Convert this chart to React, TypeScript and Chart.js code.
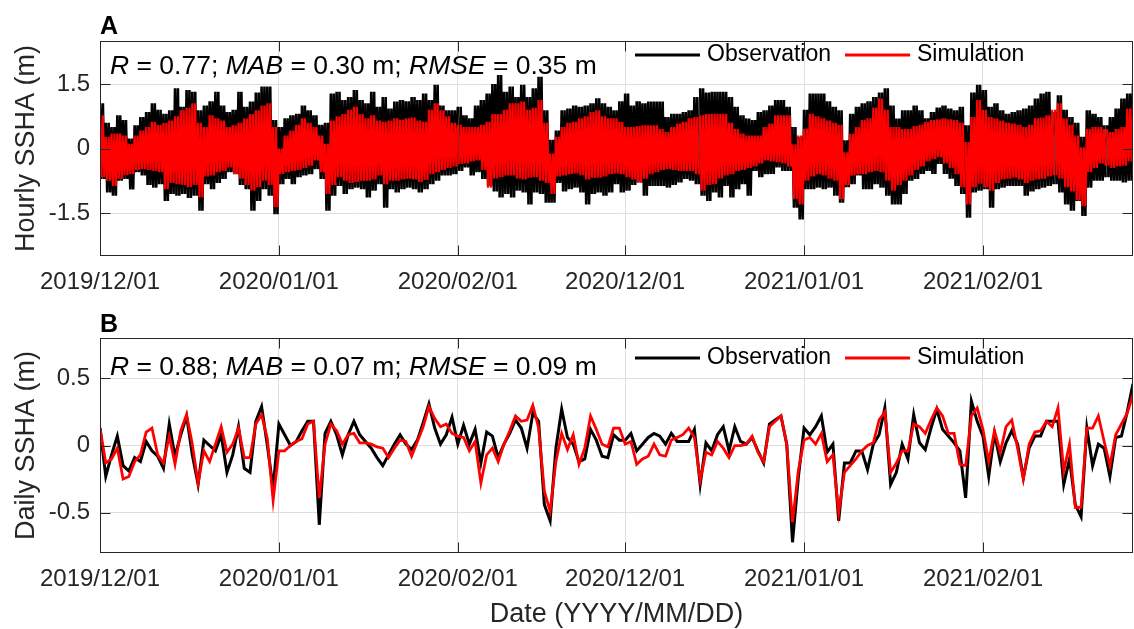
import React, { useEffect, useRef } from 'react';
import { Chart, registerables } from 'chart.js';
Chart.register(...registerables);

const FONT = '"Liberation Sans", Arial, Helvetica, sans-serif';
const TICK_COLOR = '#262626';
const GRID_COLOR = '#dedede';

// x axis: day index from 2019/12/01 (six months of data, concatenated)
const tickDays = [0, 31, 62, 91, 122, 153];
const tickLabels = ['2019/12/01', '2020/01/01', '2020/02/01', '2020/12/01', '2021/01/01', '2021/02/01'];
const dayMax = 179;

const hourlyYTicks = [-1.5, 0, 1.5];
const hourlyYLabels = ['-1.5', '0', '1.5'];
const dailyYTicks = [-0.5, 0, 0.5];
const dailyYLabels = ['-0.5', '0', '0.5'];

const seriesNames = ['Observation', 'Simulation'];
const seriesColors = ['#000000', '#ff0000'];

// Daily SSHA (m)
const dailyObs = [
  0.13, -0.23, -0.07, 0.07, -0.15, -0.19, -0.09, -0.12, 0.03, -0.04,
  -0.08, -0.17, 0.16, -0.08, 0.08, 0.22, -0.07, -0.29, 0.04, 0.0,
  -0.04, 0.08, -0.2, -0.07, 0.14, -0.17, -0.2, 0.18, 0.29, 0.0,
  -0.32, 0.16, 0.08, 0.0, 0.03, 0.11, 0.18, 0.18, -0.59, 0.09,
  0.18, 0.08, -0.07, 0.08, 0.18, 0.08, 0.03, -0.02, -0.09, -0.15,
  -0.07, 0.01, 0.08, 0.01, -0.03, 0.04, 0.17, 0.31, 0.13, 0.01,
  0.08, 0.21, 0.01, 0.15, 0.01, 0.12, -0.13, 0.1, 0.07, -0.09,
  0.01, 0.09, 0.19, 0.13, -0.02, 0.24, 0.18, -0.44, -0.56, -0.02,
  0.27, 0.06, 0.01, -0.12, -0.1, 0.12, 0.04, -0.08, -0.09, 0.08,
  0.04, 0.04, 0.09, -0.04, 0.01, 0.06, 0.09, 0.07, 0.01, 0.09,
  0.03, 0.03, 0.03, 0.12, -0.29, 0.02, -0.04, 0.08, 0.14, -0.04,
  0.14, 0.03, 0.01, 0.06, -0.04, -0.13, 0.16, 0.19, 0.22, 0.01,
  -0.72, -0.24, 0.13, 0.08, 0.14, 0.22, -0.05, 0.01, -0.56, -0.13,
  -0.13, -0.04, -0.04, -0.18, 0.01, 0.08, 0.28, -0.29, -0.2, 0.01,
  -0.1, 0.23, 0.02, -0.03, 0.13, 0.27, 0.12, 0.07, 0.02, -0.04,
  -0.39, 0.33, 0.18, 0.07, -0.23, 0.09, -0.12, 0.02, 0.11, 0.01,
  -0.24, -0.02, 0.07, 0.07, 0.18, 0.18, 0.18, -0.29, -0.1, -0.44,
  -0.53, 0.13, -0.15, 0.01, -0.02, -0.23, 0.06, 0.07, 0.25, 0.46,
];
const dailySim = [
  0.13, -0.13, -0.1, -0.02, -0.25, -0.23, -0.12, -0.07, 0.1, 0.13,
  -0.07, -0.13, 0.07, -0.14, 0.11, 0.23, 0.01, -0.28, -0.04, -0.12,
  0.01, 0.14, -0.05, 0.01, 0.13, -0.09, -0.09, 0.16, 0.23, 0.05,
  -0.41, -0.04, -0.04, 0.0, 0.03, 0.05, 0.16, 0.18, -0.39, 0.01,
  0.16, 0.11, 0.01, 0.08, 0.09, 0.02, 0.02, 0.01, -0.01, -0.02,
  -0.09, -0.02, 0.04, 0.03, -0.08, 0.03, 0.14, 0.29, 0.2, 0.14,
  0.16, 0.09, 0.07, 0.06, -0.04, 0.03, -0.28, -0.07, -0.02, -0.12,
  0.01, 0.11, 0.22, 0.18, 0.19, 0.3, 0.13, -0.34, -0.49, -0.12,
  0.09, -0.03, 0.08, -0.14, -0.02, 0.22, 0.12, 0.01, -0.01, 0.13,
  0.13, 0.01, 0.03, -0.14, -0.1, -0.08, 0.01, -0.07, -0.08, 0.04,
  0.06, 0.08, 0.13, 0.06, -0.26, -0.05, -0.07, 0.03, -0.02, -0.09,
  0.0, 0.0, 0.01, 0.07, -0.05, -0.12, 0.14, 0.18, 0.22, 0.01,
  -0.57, -0.19, 0.04, 0.06, 0.01, 0.09, -0.12, -0.07, -0.5, -0.2,
  -0.15, -0.1, -0.04, 0.0, 0.02, 0.19, 0.25, -0.2, -0.13, -0.04,
  -0.04, 0.16, 0.14, 0.09, 0.19, 0.28, 0.22, 0.09, 0.09, -0.14,
  -0.15, 0.22, 0.28, 0.12, -0.12, 0.11, -0.05, 0.14, 0.19, -0.02,
  -0.25, 0.01, 0.1, 0.11, 0.18, 0.14, 0.28, -0.19, 0.01, -0.46,
  -0.46, 0.13, 0.13, 0.22, 0.03, -0.15, 0.08, 0.16, 0.24, 0.38,
];

// Hourly SSHA (m): daily high / low water read from the tidal record
const hourlyObsHigh = [
  1.05, 0.6, 0.5, 0.77, 0.66, 0.23, 0.54, 0.73, 0.85, 1.05,
  0.9, 0.81, 0.89, 1.4, 0.97, 1.36, 1.32, 0.89, 1.0, 1.1,
  1.32, 1.0, 0.85, 0.9, 1.32, 0.97, 1.09, 1.3, 1.44, 1.44,
  0.66, 0.5, 0.7, 0.77, 0.81, 1.0, 0.89, 0.77, 0.55, 0.6,
  1.28, 1.32, 1.13, 1.2, 1.36, 1.13, 1.05, 1.32, 0.97, 1.2,
  0.93, 1.09, 1.13, 1.1, 1.2, 1.13, 1.28, 1.13, 1.48, 1.0,
  0.89, 0.89, 0.97, 0.77, 0.7, 1.0, 1.13, 1.28, 1.5, 1.71,
  1.32, 1.44, 1.2, 1.48, 1.2, 1.4, 1.67, 0.89, 0.2, 0.42,
  0.89, 0.93, 1.0, 0.97, 1.0, 1.05, 1.17, 1.05, 0.97, 0.89,
  1.1, 1.28, 1.0, 1.1, 1.05, 1.09, 1.09, 1.09, 0.73, 0.81,
  0.81, 0.85, 0.89, 1.2, 1.4, 1.3, 1.32, 1.32, 1.32, 1.2,
  0.97, 0.77, 0.7, 0.66, 0.85, 0.89, 1.0, 1.13, 1.13, 0.97,
  0.5, 0.27, 0.9, 1.28, 1.28, 1.28, 1.1, 0.97, 0.89, 0.19,
  0.81, 0.97, 1.05, 1.1, 1.2, 1.3, 1.4, 1.0, 0.7, 0.89,
  0.89, 1.0, 0.89, 0.7, 0.85, 0.95, 1.0, 0.93, 0.89, 0.97,
  0.54, 1.3, 1.48, 1.36, 0.97, 1.05, 0.89, 0.81, 0.85, 0.89,
  0.93, 1.0, 1.16, 1.28, 1.32, 0.85, 1.24, 0.9, 0.73, 0.6,
  0.27, 0.89, 0.81, 0.73, 0.54, 0.73, 0.93, 1.16, 1.28, 1.5,
];
const hourlyObsLow = [
  -0.71, -1.02, -1.1, -0.75, -0.71, -0.95, -0.55, -0.63, -0.85, -0.91,
  -0.83, -1.22, -1.06, -1.1, -1.06, -1.15, -1.1, -1.45, -0.83, -0.95,
  -0.8, -0.71, -0.55, -0.6, -0.85, -0.95, -1.45, -1.22, -0.95, -1.1,
  -1.53, -0.83, -0.71, -0.83, -0.67, -0.63, -0.6, -0.48, -0.71, -1.45,
  -1.1, -0.87, -1.06, -0.95, -0.91, -0.95, -1.14, -0.98, -0.83, -1.38,
  -0.95, -1.02, -0.95, -0.91, -0.95, -1.02, -0.95, -0.83, -0.75, -0.63,
  -0.63, -0.6, -0.52, -0.44, -0.63, -0.55, -0.71, -0.87, -1.0, -1.14,
  -1.06, -1.14, -0.98, -1.02, -1.3, -1.02, -1.06, -1.26, -1.26, -0.8,
  -1.0, -0.95, -0.91, -1.02, -1.3, -1.06, -1.02, -1.1, -1.02, -0.83,
  -1.02, -0.98, -0.85, -0.79, -1.1, -0.87, -0.87, -0.87, -0.91, -0.85,
  -0.79, -0.71, -0.75, -0.83, -1.1, -1.22, -1.02, -1.14, -0.87, -1.14,
  -0.95, -0.83, -1.1, -0.52, -0.67, -0.6, -0.59, -0.44, -0.52, -0.52,
  -1.38, -1.65, -0.95, -0.95, -0.91, -0.95, -0.91, -1.1, -1.26, -0.9,
  -0.83, -0.63, -0.95, -0.95, -0.83, -0.91, -1.1, -1.3, -1.3, -1.06,
  -0.75, -0.71, -0.59, -0.52, -0.59, -0.36, -0.59, -0.7, -0.87, -1.06,
  -1.61, -1.02, -0.98, -0.95, -1.38, -0.95, -0.91, -0.87, -0.87, -0.87,
  -1.1, -1.0, -0.95, -0.91, -0.87, -0.83, -1.02, -1.3, -1.45, -1.22,
  -1.57, -0.91, -0.75, -0.75, -0.67, -0.75, -0.75, -0.79, -0.75, -0.71,
];
const hourlySimHigh = [
  0.77, 0.27, 0.35, 0.35, 0.3, 0.11, 0.3, 0.42, 0.5, 0.62,
  0.55, 0.6, 0.65, 0.75, 0.89, 0.95, 1.05, 0.6, 0.5, 0.77,
  0.7, 0.65, 0.5, 0.54, 0.6, 0.7, 0.8, 0.89, 1.0, 1.05,
  0.5, 0.0, 0.3, 0.42, 0.55, 0.7, 0.6, 0.5, 0.3, 0.11,
  0.65, 0.75, 0.8, 0.9, 0.97, 0.8, 0.7, 0.77, 0.65, 0.62,
  0.65, 0.7, 0.67, 0.7, 0.72, 0.65, 0.62, 0.9, 1.05, 0.89,
  0.75, 0.6, 0.55, 0.5, 0.5, 0.5, 0.55, 0.62, 0.8, 0.8,
  0.9, 1.05, 1.05, 1.09, 0.9, 0.95, 1.13, 0.6, -0.12, 0.27,
  0.5, 0.6, 0.62, 0.7, 0.75, 0.85, 0.89, 0.75, 0.7, 0.7,
  0.62, 0.5, 0.5, 0.52, 0.54, 0.54, 0.54, 0.45, 0.38, 0.5,
  0.58, 0.62, 0.7, 0.73, 0.77, 0.8, 0.81, 0.81, 0.81, 0.6,
  0.45, 0.35, 0.3, 0.3, 0.3, 0.5, 0.58, 0.77, 0.77, 0.77,
  0.1, 0.3, 0.46, 0.81, 0.75, 0.7, 0.65, 0.6, 0.55, -0.09,
  0.34, 0.5, 0.66, 0.7, 0.95, 1.16, 0.9, 0.5, 0.5, 0.45,
  0.45, 0.52, 0.55, 0.62, 0.66, 0.68, 0.7, 0.68, 0.66, 0.6,
  0.15, 0.73, 1.13, 0.9, 0.73, 0.7, 0.65, 0.6, 0.58, 0.55,
  0.5, 0.55, 0.7, 0.72, 0.77, 0.9, 1.05, 0.7, 0.55, 0.3,
  0.03, 0.45, 0.5, 0.5, 0.45, 0.38, 0.45, 0.5, 0.93, 1.0,
];
const hourlySimLow = [
  -0.67, -0.75, -0.87, -0.7, -0.62, -0.59, -0.5, -0.48, -0.5, -0.52,
  -0.55, -0.95, -0.8, -0.83, -0.85, -0.9, -0.85, -1.14, -0.65, -0.63,
  -0.55, -0.52, -0.44, -0.59, -0.7, -0.85, -0.98, -0.9, -0.75, -0.85,
  -1.36, -0.59, -0.55, -0.52, -0.5, -0.45, -0.4, -0.28, -0.55, -1.06,
  -0.85, -0.67, -0.75, -0.8, -0.78, -0.75, -0.75, -0.72, -0.63, -0.83,
  -0.75, -0.75, -0.72, -0.7, -0.72, -0.78, -0.73, -0.6, -0.55, -0.5,
  -0.45, -0.42, -0.36, -0.35, -0.3, -0.28, -0.5, -0.91, -0.7, -0.67,
  -0.63, -0.63, -0.7, -0.72, -0.68, -0.67, -0.75, -0.8, -1.06, -0.65,
  -0.63, -0.6, -0.58, -0.62, -0.72, -0.68, -0.68, -0.65, -0.6, -0.58,
  -0.6, -0.67, -0.72, -0.79, -0.7, -0.6, -0.55, -0.5, -0.48, -0.5,
  -0.52, -0.52, -0.52, -0.6, -0.98, -0.85, -0.83, -0.7, -0.63, -0.6,
  -0.52, -0.5, -0.45, -0.42, -0.35, -0.28, -0.3, -0.32, -0.35, -0.42,
  -1.18, -1.3, -0.75, -0.65, -0.6, -0.63, -0.7, -0.75, -1.18, -0.85,
  -0.63, -0.6, -0.6, -0.55, -0.52, -0.55, -0.75, -0.98, -0.85, -0.75,
  -0.63, -0.5, -0.42, -0.3, -0.25, -0.2, -0.35, -0.45, -0.6, -0.9,
  -1.3, -0.9, -0.82, -0.9, -0.98, -0.8, -0.72, -0.7, -0.68, -0.72,
  -0.8, -0.75, -0.72, -0.7, -0.65, -0.62, -0.7, -0.9, -1.0, -1.2,
  -1.34, -0.55, -0.45, -0.35, -0.4, -0.45, -0.42, -0.4, -0.3, -0.3,
];
// positions (day index) where the hourly record has missing data
const hourlyGaps = [22.5, 62.2, 103.8, 149.8, 165.4, 174.4];
// semidiurnal sampling: two high / low waters per day
const tidePhases = [0, 0.25, 0.5, 0.75];

type Seg = { t: string; i?: boolean };
const statsHourly: Seg[] = [
  { t: 'R', i: true }, { t: ' = 0.77; ' }, { t: 'MAB', i: true }, { t: ' = 0.30 m; ' },
  { t: 'RMSE', i: true }, { t: ' = 0.35 m' },
];
const statsDaily: Seg[] = [
  { t: 'R', i: true }, { t: ' = 0.88; ' }, { t: 'MAB', i: true }, { t: ' = 0.07 m; ' },
  { t: 'RMSE', i: true }, { t: ' = 0.09 m' },
];

function buildHourly(high: number[], low: number[]) {
  const pts: { x: number; y: number | null }[] = [];
  for (let d = 0; d < high.length; d++) {
    tidePhases.forEach((ph, k) => {
      const x = d + ph;
      const y = k % 2 === 0 ? high[d] : low[d];
      const last = pts.length ? pts[pts.length - 1].x : -Infinity;
      for (const g of hourlyGaps) if (g > last && g < x) pts.push({ x: g, y: null });
      pts.push({ x, y });
    });
  }
  return pts;
}

function buildDaily(vals: number[]) {
  return vals.map((y, x) => ({ x, y }));
}

function overlayPlugin(o: {
  id: string; label: string; labelY: number; stats: Seg[]; statsY: number; legendY: number;
  yTicks: number[];
}) {
  return {
    id: o.id,
    afterDraw(chart: any) {
      const { ctx, chartArea: a, scales } = chart;
      ctx.save();
      ctx.strokeStyle = TICK_COLOR;
      ctx.lineWidth = 1;
      const L = Math.round(a.left) + 0.5;
      const R = Math.round(a.right) - 0.5;
      const T = Math.round(a.top) + 0.5;
      const B = Math.round(a.bottom) - 0.5;
      ctx.strokeRect(L, T, R - L, B - T);
      ctx.beginPath();
      for (const v of tickDays) {
        const px = Math.round(scales.x.getPixelForValue(v)) + 0.5;
        ctx.moveTo(px, B); ctx.lineTo(px, B - 10);
        ctx.moveTo(px, T); ctx.lineTo(px, T + 10);
      }
      for (const v of o.yTicks) {
        const py = Math.round(scales.y.getPixelForValue(v)) + 0.5;
        ctx.moveTo(L, py); ctx.lineTo(L + 10, py);
        ctx.moveTo(R, py); ctx.lineTo(R - 10, py);
      }
      ctx.stroke();

      ctx.fillStyle = '#000';
      ctx.textAlign = 'left';
      ctx.textBaseline = 'alphabetic';
      ctx.font = `bold 25px ${FONT}`;
      ctx.fillText(o.label, 100, o.labelY);

      let x = 110;
      for (const s of o.stats) {
        ctx.font = `${s.i ? 'italic ' : ''}26.5px ${FONT}`;
        ctx.fillText(s.t, x, o.statsY);
        x += ctx.measureText(s.t).width;
      }

      ctx.font = `23px ${FONT}`;
      ctx.textBaseline = 'middle';
      let lx = 635;
      seriesNames.forEach((name, i) => {
        ctx.strokeStyle = seriesColors[i];
        ctx.lineWidth = 3;
        ctx.beginPath();
        ctx.moveTo(lx, o.legendY);
        ctx.lineTo(lx + 65, o.legendY);
        ctx.stroke();
        ctx.fillStyle = '#000';
        ctx.fillText(name, lx + 72, o.legendY);
        lx += 72 + ctx.measureText(name).width + 14;
      });
      ctx.restore();
    },
  };
}

function makeConfig(p: {
  obs: any[]; sim: any[]; obsWidth: number; simWidth: number; yMin: number; yMax: number;
  yTicks: number[]; yLabels: string[]; yTitle: string; padTop: number; xAxisHeight: number;
  xTitle?: string; plugin: any;
}) {
  return {
    type: 'line',
    data: {
      datasets: [
        {
          label: seriesNames[0], data: p.obs, borderColor: seriesColors[0], borderWidth: p.obsWidth,
          pointRadius: 0, tension: 0, spanGaps: false, order: 1, clip: 0, borderJoinStyle: 'miter',
        },
        {
          label: seriesNames[1], data: p.sim, borderColor: seriesColors[1], borderWidth: p.simWidth,
          pointRadius: 0, tension: 0, spanGaps: false, order: 0, clip: 0, borderJoinStyle: 'miter',
        },
      ],
    },
    options: {
      responsive: false,
      animation: false,
      devicePixelRatio: 1,
      events: [],
      layout: { padding: { top: p.padTop, right: 1, left: 0, bottom: 0 } },
      plugins: { legend: { display: false }, tooltip: { enabled: false } },
      scales: {
        x: {
          type: 'linear', min: 0, max: dayMax,
          afterBuildTicks: (s: any) => { s.ticks = tickDays.map((v) => ({ value: v })); },
          afterFit: (s: any) => { s.height = p.xAxisHeight; },
          ticks: {
            autoSkip: false, maxRotation: 0, minRotation: 0, padding: 12,
            color: TICK_COLOR, font: { family: FONT, size: 24 },
            callback: (_v: any, i: number) => tickLabels[i],
          },
          grid: { color: GRID_COLOR, lineWidth: 1, drawTicks: false },
          border: { display: false },
          title: p.xTitle
            ? { display: true, text: p.xTitle, color: TICK_COLOR, font: { family: FONT, size: 27, lineHeight: 1 }, padding: { top: 0, bottom: 0.5 } }
            : { display: false },
        },
        y: {
          type: 'linear', min: p.yMin, max: p.yMax,
          afterBuildTicks: (s: any) => { s.ticks = p.yTicks.map((v) => ({ value: v })); },
          afterFit: (s: any) => { s.width = 100; },
          ticks: {
            padding: 10, color: TICK_COLOR, font: { family: FONT, size: 24 },
            callback: (_v: any, i: number) => p.yLabels[i],
          },
          grid: { color: GRID_COLOR, lineWidth: 1, drawTicks: false },
          border: { display: false },
          title: {
            display: true, text: p.yTitle, color: TICK_COLOR,
            font: { family: FONT, size: 27, lineHeight: 1 }, padding: { top: 13.5, bottom: 0 },
          },
        },
      },
    },
    plugins: [p.plugin],
  } as any;
}

export default function App() {
  const refA = useRef<HTMLCanvasElement>(null);
  const refB = useRef<HTMLCanvasElement>(null);

  useEffect(() => {
    const cfgA = makeConfig({
      obs: buildHourly(hourlyObsHigh, hourlyObsLow),
      sim: buildHourly(hourlySimHigh, hourlySimLow),
      obsWidth: 2.6, simWidth: 2.2,
      yMin: -2.5, yMax: 2.5, yTicks: hourlyYTicks, yLabels: hourlyYLabels,
      yTitle: 'Hourly SSHA (m)', padTop: 41, xAxisHeight: 44,
      plugin: overlayPlugin({ id: 'ovA', label: 'A', labelY: 34, stats: statsHourly, statsY: 74, legendY: 55, yTicks: hourlyYTicks }),
    });
    const cfgB = makeConfig({
      obs: buildDaily(dailyObs),
      sim: buildDaily(dailySim),
      obsWidth: 3, simWidth: 2.75,
      yMin: -0.8, yMax: 0.8, yTicks: dailyYTicks, yLabels: dailyYLabels,
      yTitle: 'Daily SSHA (m)', padTop: 38, xAxisHeight: 76, xTitle: 'Date (YYYY/MM/DD)',
      plugin: overlayPlugin({ id: 'ovB', label: 'B', labelY: 32, stats: statsDaily, statsY: 75, legendY: 58, yTicks: dailyYTicks }),
    });
    const a = new Chart(refA.current as HTMLCanvasElement, cfgA);
    const b = new Chart(refB.current as HTMLCanvasElement, cfgB);
    return () => { a.destroy(); b.destroy(); };
  }, []);

  return (
    <div style={{ position: 'absolute', left: 0, top: 0, width: 1134, height: 629, background: '#fff' }}>
      <canvas ref={refA} width={1134} height={300} style={{ position: 'absolute', left: 0, top: 0, display: 'block' }} />
      <canvas ref={refB} width={1134} height={329} style={{ position: 'absolute', left: 0, top: 300, display: 'block' }} />
    </div>
  );
}
